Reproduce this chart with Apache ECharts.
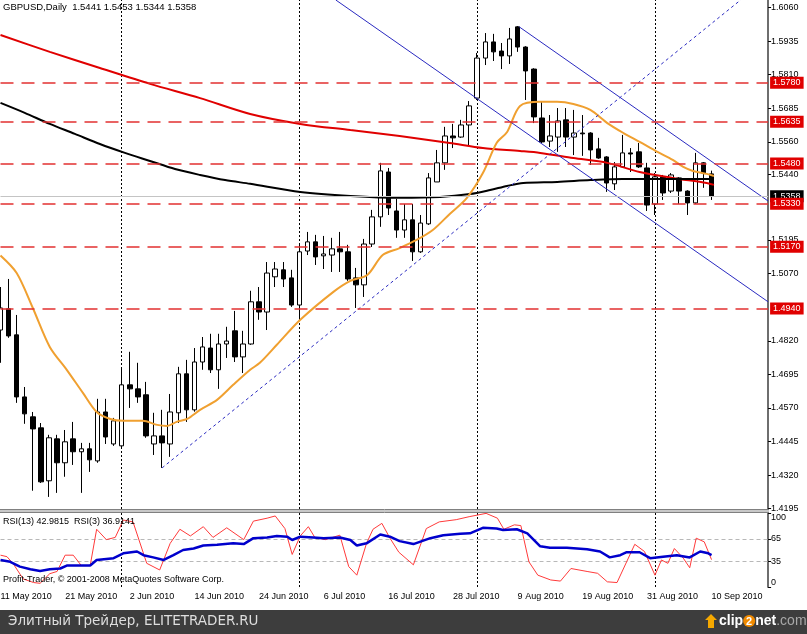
<!DOCTYPE html>
<html><head><meta charset="utf-8">
<script src="https://cdn.jsdelivr.net/npm/echarts@6/dist/echarts.min.js"></script>
<style>html,body{margin:0;padding:0;background:#fff;}#c{width:807px;height:634px;}</style>
</head><body><div id="c"></div>
<script>
// ---- trading days (category labels) ----
const daysMay=[11,12,13,14,17,18,19,20,21,24,25,26,27,28,31];
const daysJun=[1,2,3,4,7,8,9,10,11,14,15,16,17,18,21,22,23,24,25,28,29,30];
const daysJul=[1,2,5,6,7,8,9,12,13,14,15,16,19,20,21,22,23,26,27,28,29,30];
const daysAug=[2,3,4,5,6,9,10,11,12,13,16,17,18,19,20,23,24,25,26,27,30,31];
const daysSep=[1,2,3,6,7,8,9,10];
const dates=[].concat(
  daysMay.map(d=>d+' May 2010'),daysJun.map(d=>d+' Jun 2010'),daysJul.map(d=>d+' Jul 2010'),
  daysAug.map(d=>d+' Aug 2010'),daysSep.map(d=>d+' Sep 2010'));
const emptySlots=7;
const dateTickIdx=[0,8,16,24,32,40,48,56,64,72,80,88];
const separatorIdx=[15,37,59,81];

// ---- OHLC ----
const open=[1.4860,1.4939,1.4842,1.4611,1.4537,1.4496,1.4299,1.4455,1.4366,1.4455,
1.4407,1.4418,1.4373,1.4555,1.4436,1.4429,1.4656,1.4641,1.4619,1.4436,
1.4466,1.4436,1.4552,1.4697,1.4563,1.4741,1.4793,1.4712,1.4808,1.4857,
1.4760,1.4808,1.4965,1.4927,1.5058,1.5084,1.5054,1.4953,1.5154,1.5188,
1.5136,1.5139,1.5162,1.5151,1.5054,1.5028,1.5180,1.5281,1.5448,1.5303,
1.5232,1.5270,1.5151,1.5255,1.5411,1.5482,1.5582,1.5578,1.5623,1.5723,
1.5872,1.5932,1.5898,1.5880,1.5988,1.5913,1.5831,1.5649,1.5563,1.5578,
1.5642,1.5578,1.5593,1.5593,1.5534,1.5504,1.5404,1.5467,1.5519,1.5523,
1.5463,1.5329,1.5430,1.5377,1.5426,1.5377,1.5333,1.5482,1.5441];
const high=[1.5020,1.5050,1.4916,1.4648,1.4555,1.4514,1.4470,1.4470,1.4488,1.4518,
1.4440,1.4440,1.4604,1.4604,1.4533,1.4719,1.4779,1.4738,1.4667,1.4552,
1.4563,1.4622,1.4723,1.4749,1.4793,1.4834,1.4846,1.4846,1.4872,1.4931,
1.4857,1.5006,1.5020,1.5113,1.5113,1.5113,1.5084,1.5177,1.5225,1.5214,
1.5210,1.5203,1.5225,1.5177,1.5091,1.5199,1.5307,1.5482,1.5463,1.5348,
1.5329,1.5329,1.5288,1.5444,1.5530,1.5616,1.5627,1.5642,1.5712,1.5891,
1.5965,1.5962,1.5928,1.5984,1.5991,1.5916,1.5834,1.5709,1.5660,1.5686,
1.5686,1.5679,1.5660,1.5596,1.5575,1.5507,1.5485,1.5586,1.5537,1.5556,
1.5482,1.5444,1.5437,1.5444,1.5429,1.5380,1.5519,1.5485,1.5453];
const low=[1.4738,1.4831,1.4589,1.4511,1.4262,1.4291,1.4239,1.4254,1.4314,1.4358,
1.4254,1.4332,1.4366,1.4436,1.4429,1.4421,1.4570,1.4589,1.4459,1.4395,
1.4347,1.4388,1.4514,1.4518,1.4556,1.4712,1.4700,1.4641,1.4756,1.4741,
1.4700,1.4805,1.4898,1.4860,1.5020,1.5020,1.4946,1.4898,1.5139,1.5102,
1.5087,1.5076,1.5076,1.5043,1.4942,1.4983,1.5169,1.5244,1.5288,1.5203,
1.5203,1.5117,1.5147,1.5251,1.5411,1.5456,1.5537,1.5575,1.5545,1.5716,
1.5846,1.5861,1.5831,1.5850,1.5895,1.5716,1.5630,1.5556,1.5541,1.5523,
1.5541,1.5511,1.5508,1.5474,1.5497,1.5374,1.5381,1.5463,1.5448,1.5463,
1.5303,1.5288,1.5344,1.5370,1.5329,1.5288,1.5329,1.5389,1.5344];
const close=[1.4942,1.4838,1.4611,1.4548,1.4492,1.4295,1.4459,1.4366,1.4444,1.4407,
1.4418,1.4377,1.4555,1.4462,1.4522,1.4656,1.4641,1.4611,1.4466,1.4466,
1.4440,1.4555,1.4697,1.4563,1.4741,1.4797,1.4712,1.4808,1.4819,1.4760,
1.4808,1.4965,1.4927,1.5072,1.5087,1.5050,1.4953,1.5151,1.5188,1.5132,
1.5143,1.5162,1.5151,1.5050,1.5028,1.5180,1.5281,1.5452,1.5314,1.5232,
1.5270,1.5151,1.5258,1.5426,1.5482,1.5582,1.5575,1.5623,1.5694,1.5872,
1.5932,1.5895,1.5880,1.5943,1.5913,1.5824,1.5653,1.5560,1.5582,1.5638,
1.5578,1.5593,1.5590,1.5530,1.5500,1.5407,1.5467,1.5519,1.5515,1.5467,
1.5325,1.5430,1.5370,1.5437,1.5377,1.5333,1.5482,1.5444,1.5358];

// ---- moving averages [barIndex, price] ----
const maRed=[[0,1.5958],[6.1,1.5895],[12.3,1.5835],[18.5,1.5776],[24.7,1.5723],[30.9,1.5664],
[37.1,1.5627],[43.3,1.5604],[49.4,1.5582],[55.6,1.5556],[59.7,1.5537],[64.3,1.5526],[66.8,1.5519],
[70.9,1.5500],[75.1,1.5482],[79.1,1.5448],[83.2,1.5426],[87.4,1.5407],[88.3,1.5400]];
const maBlack=[[0,1.5705],[3,1.5668],[6.1,1.5627],[9.2,1.5590],[12.3,1.5552],[15.4,1.5519],
[18.5,1.5489],[21.6,1.5459],[24.7,1.5437],[27.8,1.5418],[30.9,1.5404],[37.1,1.5374],[43.3,1.5359],
[49.4,1.5352],[54.4,1.5355],[58.1,1.5366],[60.6,1.5381],[62.7,1.5396],[64.7,1.5407],[68.9,1.5411],
[73,1.5418],[77,1.5422],[81.3,1.5422],[85.3,1.5422],[88.3,1.5422]];
const maOrange=[[0,1.5137],[2,1.5072],[4,1.4942],[6.1,1.4797],[8.2,1.4712],[10.2,1.4626],
[11.9,1.4555],[13.6,1.4529],[15.2,1.4522],[17.6,1.4522],[19.4,1.4507],[20.6,1.4503],[21.8,1.4518],
[23.1,1.4529],[24.7,1.4563],[26.8,1.4600],[28.8,1.4656],[30.9,1.4712],[32.1,1.4738],[34.2,1.4805],
[37.1,1.4898],[41.2,1.5002],[43.3,1.5043],[45.4,1.5065],[47.3,1.5139],[49.4,1.5165],[51.5,1.5195],
[53.5,1.5232],[55.6,1.5292],[57.7,1.5351],[59.7,1.5444],[61.4,1.5556],[62.7,1.5597],[64.3,1.5694],
[66.8,1.5709],[68.9,1.5709],[70.9,1.5701],[73,1.5679],[75.1,1.5630],[77.1,1.5593],[79.1,1.5560],
[81.3,1.5523],[83.2,1.5493],[84.5,1.5467],[85.7,1.5452],[87.4,1.5441],[88.3,1.5433]];

// ---- drawn objects ----
const channelLower=[[41.5,1.6088],[95,1.4965]];
const channelUpper=[[64.2,1.5988],[95,1.5340]];
const trendDotted=[[20,1.4347],[91.6,1.6088]];
const levels=[1.5780,1.5635,1.5480,1.5330,1.5170,1.4940];
const lastPrice=1.5358;
const priceTicks=[1.6060,1.5935,1.5810,1.5685,1.5560,1.5440,1.5195,1.5070,1.4820,1.4695,1.4570,1.4445,1.4320,1.4195];

// ---- RSI [barIndex, value] ----
const rsi13=[[0,36.5],[1.2,34],[2.4,27.5],[3.7,24],[4.9,21.6],[6.1,24],[7.4,25],[8.2,29],[11.1,29],[11.9,36.5],
[14,39],[15.2,45.5],[16.9,48],[17.7,43],[18.9,40],[20.2,36.5],[21.4,43],[22.6,50],[23.9,52],[25.1,56],
[26.8,57],[28.8,59],[30.1,58],[31.3,66],[33,67],[34.2,69],[35.5,68],[36.1,63.5],[37.1,68],[38.7,67],
[40,66],[42,67],[43.3,63.5],[44.1,56],[45.3,59],[47,71],[48.2,68],[49.4,62],[51.1,58],[53.2,66],
[54.8,70],[56.9,72],[58.1,72.5],[59.7,80],[61.4,79],[62.2,77],[63.9,78],[65.2,72.5],[66.8,55],[68,53],
[70.1,53],[72.6,51],[74.2,48],[75.4,40],[76.7,43],[77.5,47],[79.1,47],[80.4,39],[82,41],[83.7,43],
[85.3,40],[86.6,48],[87.6,45.5],[88,43]];
const rsi3=[[0,43],[0.8,41],[1.6,31],[2.8,11],[4.1,6],[4.9,5],[6.1,18],[7,21],[8,43],[9,43],
[10,29],[11.1,29],[11.9,78],[13.1,64],[14.2,67],[15.2,90.5],[16.4,88],[18.1,32],[19.7,23],[21,59],
[22.2,78],[23.5,69],[25.1,81.5],[26.3,67],[28,80],[30.1,64],[31.3,89],[33,93],[34,96],[35.2,79],
[36.1,44],[37.1,69],[38.1,81.5],[38.9,67],[40.2,64],[42,70],[43.1,27.5],[44.1,16],[45.3,59],[46.1,78],
[47.2,86],[48.2,66],[49.3,47],[51.1,30],[52.7,79],[54.3,88],[56.4,91],[58,95],[60.1,99.5],[61.5,93],
[62.3,78],[63.6,84],[64.4,83],[65.4,34],[66.5,16],[68.1,9.5],[69.3,8],[70.6,25],[72.6,21],[73.9,18.5],
[75.1,7],[76.3,6],[78.5,57.7],[79.7,48],[81,16],[81.8,36.5],[82.6,32],[83.4,52],[84.5,39],[85.3,26],
[86.1,66],[87.1,61],[88,37]];
const rsiTicks=[0,35,65,100];
const rsiLevels=[35,65];

// ---- build ----
const FF='Liberation Sans, Arial, sans-serif';
const N=dates.length+emptySlots;
const cats=dates.concat(new Array(emptySlots).fill(''));
const candles=open.map((o,i)=>[o,close[i],low[i],high[i]]);
const last=open.length-1;
const GL=0.5, GW=767.6;

const chart=echarts.init(document.getElementById('c'),null,{renderer:'canvas'});
const sepLine={color:'#000',type:[2,2],width:1};
chart.setOption({
  animation:false,
  backgroundColor:'#ffffff',
  grid:[
    {left:GL,top:0,width:GW,height:509,outerBoundsMode:'none',containLabel:false},
    {left:GL,top:513,width:GW,height:74,outerBoundsMode:'none',containLabel:false}
  ],
  xAxis:[
    {type:'category',gridIndex:0,data:cats,boundaryGap:false,show:false},
    {type:'value',gridIndex:0,min:0,max:N-1,show:false},
    {type:'value',gridIndex:1,min:0,max:N-1,
      axisLine:{show:false,onZero:false},axisTick:{show:false},splitLine:{show:false},
      axisLabel:{customValues:dateTickIdx,formatter:v=>dates[v],align:'left',fontSize:9,fontFamily:FF,color:'#000',margin:5}}
  ],
  yAxis:[
    {type:'value',gridIndex:0,position:'right',min:1.4194,max:1.6088,
      axisLine:{show:true,onZero:false,lineStyle:{color:'#6e6e6e',width:2}},
      axisTick:{show:true,customValues:priceTicks,length:3,lineStyle:{color:'#000'}},
      axisLabel:{customValues:priceTicks,formatter:v=>v.toFixed(4),fontSize:9,fontFamily:FF,color:'#000',margin:3},
      splitLine:{show:false}},
    {type:'value',gridIndex:1,position:'right',min:0,max:100,
      axisLine:{show:true,onZero:false,lineStyle:{color:'#6e6e6e',width:2}},
      axisTick:{show:true,customValues:rsiTicks,length:3,lineStyle:{color:'#000'}},
      axisLabel:{customValues:rsiTicks,formatter:v=>String(v),fontSize:9,fontFamily:FF,color:'#000',margin:3,
        verticalAlignMinLabel:'bottom',verticalAlignMaxLabel:'top'},
      splitLine:{show:false}}
  ],
  series:[
    {type:'line',xAxisIndex:1,yAxisIndex:0,data:[],silent:true,
      markLine:{symbol:['none','none'],silent:true,z:1,label:{show:false},lineStyle:sepLine,
        data:separatorIdx.map(v=>({xAxis:v}))}},
    {type:'candlestick',xAxisIndex:0,yAxisIndex:0,data:candles,barWidth:5,z:3,
      itemStyle:{color:'#ffffff',color0:'#000000',borderColor:'#000000',borderColor0:'#000000',borderColorDoji:'#000000',borderWidth:1},
      markLine:{symbol:['none','none'],silent:true,z:6,precision:4,
        lineStyle:{color:'#e23030',type:[13,8],width:1.5},
        label:{show:true,position:'end',distance:2,formatter:p=>p.value.toFixed(4),color:'#fff',
          backgroundColor:'#e00000',padding:[2,3,1,3],fontSize:9,fontFamily:FF},
        data:[{yAxis:lastPrice,lineStyle:{color:'#c4c4c4',type:'solid',width:1},label:{backgroundColor:'#000'}}]
          .concat(levels.map(v=>({yAxis:v})))}},
    {type:'line',xAxisIndex:1,yAxisIndex:0,data:maRed,showSymbol:false,smooth:0.3,z:4,
      lineStyle:{color:'#e00000',width:2}},
    {type:'line',xAxisIndex:1,yAxisIndex:0,data:maBlack,showSymbol:false,smooth:0.3,z:4,
      lineStyle:{color:'#000000',width:2}},
    {type:'line',xAxisIndex:1,yAxisIndex:0,data:maOrange,showSymbol:false,smooth:0.3,z:4,
      lineStyle:{color:'#f0a030',width:2}},
    {type:'line',xAxisIndex:1,yAxisIndex:0,data:channelLower,showSymbol:false,z:5,lineStyle:{color:'#2a2ac0',width:1}},
    {type:'line',xAxisIndex:1,yAxisIndex:0,data:channelUpper,showSymbol:false,z:5,lineStyle:{color:'#2a2ac0',width:1}},
    {type:'line',xAxisIndex:1,yAxisIndex:0,data:trendDotted,showSymbol:false,z:5,lineStyle:{color:'#2a2ac0',width:1,type:[3,3]}},
    {type:'line',xAxisIndex:2,yAxisIndex:1,data:rsi3,showSymbol:false,z:3,lineStyle:{color:'#ff3a3a',width:1},
      markLine:{symbol:['none','none'],silent:true,z:1,label:{show:false},
        data:[{yAxis:rsiLevels[0]},{yAxis:rsiLevels[1]}].map(d=>Object.assign(d,{lineStyle:{color:'#b8b8b8',type:[4,3],width:1}}))
          .concat(separatorIdx.map(v=>({xAxis:v,lineStyle:sepLine})))}},
    {type:'line',xAxisIndex:2,yAxisIndex:1,data:rsi13,showSymbol:false,z:4,lineStyle:{color:'#0000cc',width:2.5}}
  ],
  graphic:[
    {type:'text',left:3,top:2,z:50,style:{text:'GBPUSD,Daily  '+[open[last],high[last],low[last],close[last]].map(v=>v.toFixed(4)).join(' '),
      font:'9.5px '+FF,fill:'#000'}},
    {type:'line',shape:{x1:0,y1:509.5,x2:769,y2:509.5},style:{stroke:'#808080',lineWidth:1},z:50},
    {type:'line',shape:{x1:0,y1:511,x2:769,y2:511},style:{stroke:'#c8c8c8',lineWidth:2},z:50},
    {type:'line',shape:{x1:0,y1:512.5,x2:769,y2:512.5},style:{stroke:'#808080',lineWidth:1},z:50},
    {type:'text',left:3,top:517,z:50,style:{text:'RSI(13) 42.9815  RSI(3) 36.9141',font:'9px '+FF,fill:'#000'}},
    {type:'text',left:3,top:575,z:50,style:{text:'Profit-Trader, © 2001-2008 MetaQuotes Software Corp.',font:'9px '+FF,fill:'#000'}},
    {type:'rect',shape:{x:0,y:610,width:807,height:24},style:{fill:'#3d3d3d'},z:50},
    {type:'text',left:8,top:614,z:51,style:{text:'Элитный Трейдер, ELITETRADER.RU',font:'13.5px DejaVu Sans, sans-serif',fill:'#dedede'}},
    {type:'polygon',shape:{points:[[711,614],[717,620],[714,620],[714,628],[708,628],[708,620],[705,620]]},style:{fill:'#f5a800'},z:51},
    {type:'text',left:719,top:614,z:51,style:{rich:{
        a:{fontSize:14,fontWeight:'bold',fill:'#ffffff',fontFamily:FF},
        b:{fontSize:11,fontWeight:'bold',fill:'#ffffff',backgroundColor:'#f08a00',borderRadius:7,padding:[1,3,0,3],fontFamily:FF},
        c:{fontSize:14,fill:'#a8a8a8',fontFamily:FF}},
      text:'{a|clip}{b|2}{a|net}{c|.com}'}}
  ]
});
</script></body></html>
